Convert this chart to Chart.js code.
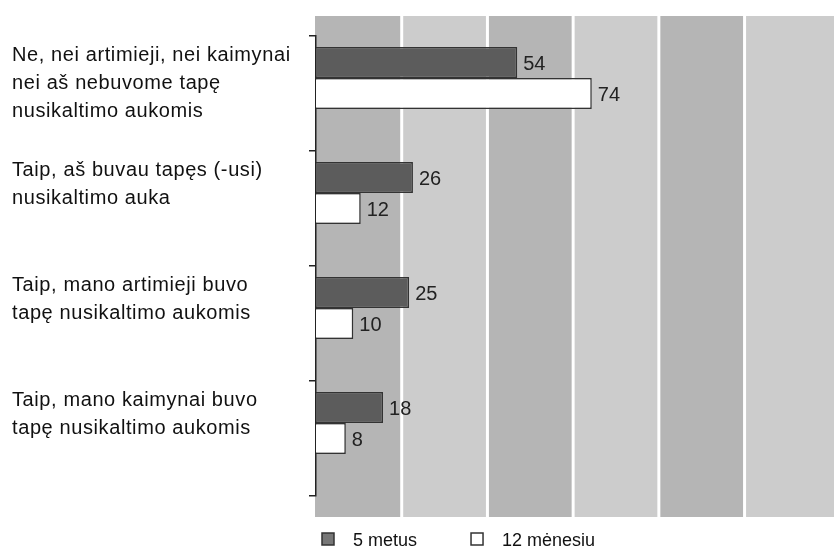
<!DOCTYPE html>
<html>
<head>
<meta charset="utf-8">
<script src="https://cdn.jsdelivr.net/npm/chart.js@4"></script>
<style>
  html, body { margin: 0; padding: 0; background: #fff; }
  #wrap { width: 834px; height: 547px; }
</style>
</head>
<body>
<div id="wrap"><canvas id="chart" width="834" height="547"></canvas></div>
<script>
// categories, one line per array item (empty last line keeps the text near the top)
const categories = [
  ["Ne, nei artimieji, nei kaimynai", "nei aš nebuvome tapę", "nusikaltimo aukomis"],
  ["Taip, aš buvau tapęs (-usi)", "nusikaltimo auka", ""],
  ["Taip, mano artimieji buvo", "tapę nusikaltimo aukomis", ""],
  ["Taip, mano kaimynai buvo", "tapę nusikaltimo aukomis", ""]
];
const seriesNames = ["5 metus", "12 mėnesiu"];
const fiveYears = [54, 26, 25, 18];
const twelveMonths = [74, 12, 10, 8];
// empty third slot, pushes the two bars to the top of each row
const spacer = [null, null, null, null];

const xMax = 139;
const bandStep = 23;

const FONT = "'Liberation Sans', Arial, Helvetica, sans-serif";

// grey vertical bands behind the bars
const bandsPlugin = {
  id: "bands",
  beforeDraw(chart) {
    const { ctx, chartArea } = chart;
    const x = chart.scales.x;
    const top = chartArea.top - 20;
    const bottom = chartArea.bottom + 21;
    const edges = [];
    for (let v = 0; v < xMax - bandStep / 2; v += bandStep) edges.push(x.getPixelForValue(v));
    edges.push(chartArea.right);

    ctx.save();
    for (let i = 0; i < edges.length - 1; i++) {
      const x0 = edges[i] + (i === 0 ? -1 : 1.5);
      const x1 = edges[i + 1] - (i === edges.length - 2 ? 0 : 1.5);
      ctx.fillStyle = i % 2 === 0 ? "#b5b5b5" : "#cccccc";
      ctx.fillRect(x0, top, x1 - x0, bottom - top);
    }
    ctx.restore();
    // tick labels are a little spaced out
    ctx.letterSpacing = "0.6px";
  },
  beforeDatasetsDraw(chart) {
    chart.ctx.letterSpacing = "0px";
  }
};

// numbers at the end of each bar
const valueLabels = {
  id: "valueLabels",
  afterDatasetsDraw(chart) {
    const ctx = chart.ctx;
    ctx.save();
    ctx.font = "20px " + FONT;
    ctx.fillStyle = "#222";
    ctx.textAlign = "left";
    ctx.textBaseline = "alphabetic";
    chart.data.datasets.forEach((ds, i) => {
      chart.getDatasetMeta(i).data.forEach((bar, j) => {
        const v = ds.data[j];
        if (v == null) return;
        ctx.fillText(String(v), bar.x + 6, bar.y + 7.5);
      });
    });
    ctx.restore();
  }
};

// legend under the plot
const legendColors = ["#777777", "#ffffff"];
const bottomLegend = {
  id: "bottomLegend",
  afterDraw(chart) {
    const ctx = chart.ctx;
    ctx.save();
    ctx.font = "18px " + FONT;
    ctx.textBaseline = "alphabetic";
    let x = 322;
    seriesNames.forEach((name, i) => {
      ctx.fillStyle = legendColors[i];
      ctx.fillRect(x, 533, 12, 12);
      ctx.strokeStyle = "#333";
      ctx.lineWidth = 1.5;
      ctx.strokeRect(x, 533, 12, 12);
      ctx.fillStyle = "#111";
      ctx.fillText(name, x + 31, 546);
      x += 31 + ctx.measureText(name).width + 54;
    });
    ctx.restore();
  }
};

new Chart(document.getElementById("chart"), {
  type: "bar",
  data: {
    labels: categories,
    datasets: [
      {
        label: seriesNames[0],
        data: fiveYears,
        backgroundColor: "#5c5c5c",
        borderColor: "#333",
        borderWidth: 1.5
      },
      {
        label: seriesNames[1],
        data: twelveMonths,
        backgroundColor: "#ffffff",
        borderColor: "#333",
        borderWidth: 1.5
      },
      {
        label: "",
        data: spacer,
        backgroundColor: "rgba(0,0,0,0)",
        borderWidth: 0
      }
    ]
  },
  options: {
    indexAxis: "y",
    responsive: false,
    animation: false,
    categoryPercentage: 0.81,
    barPercentage: 1,
    layout: { padding: { top: 36, bottom: 51, left: 12, right: 0 } },
    scales: {
      x: {
        display: false,
        min: 0,
        max: xMax
      },
      y: {
        afterFit: s => {
          s.width = 304;
          s.paddingTop = 0;
          s.paddingBottom = 0;
        },
        grid: {
          display: true,
          offset: true,
          drawOnChartArea: false,
          drawTicks: true,
          tickLength: 7,
          color: "#222",
          lineWidth: 1.5
        },
        border: { display: true, color: "#222", width: 1.5 },
        ticks: {
          crossAlign: "far",
          labelOffset: -10,
          color: "#111",
          font: { family: FONT, size: 20, lineHeight: 1.4 }
        }
      }
    },
    plugins: {
      legend: { display: false },
      tooltip: { enabled: false }
    }
  },
  plugins: [bandsPlugin, valueLabels, bottomLegend]
});
</script>
</body>
</html>
